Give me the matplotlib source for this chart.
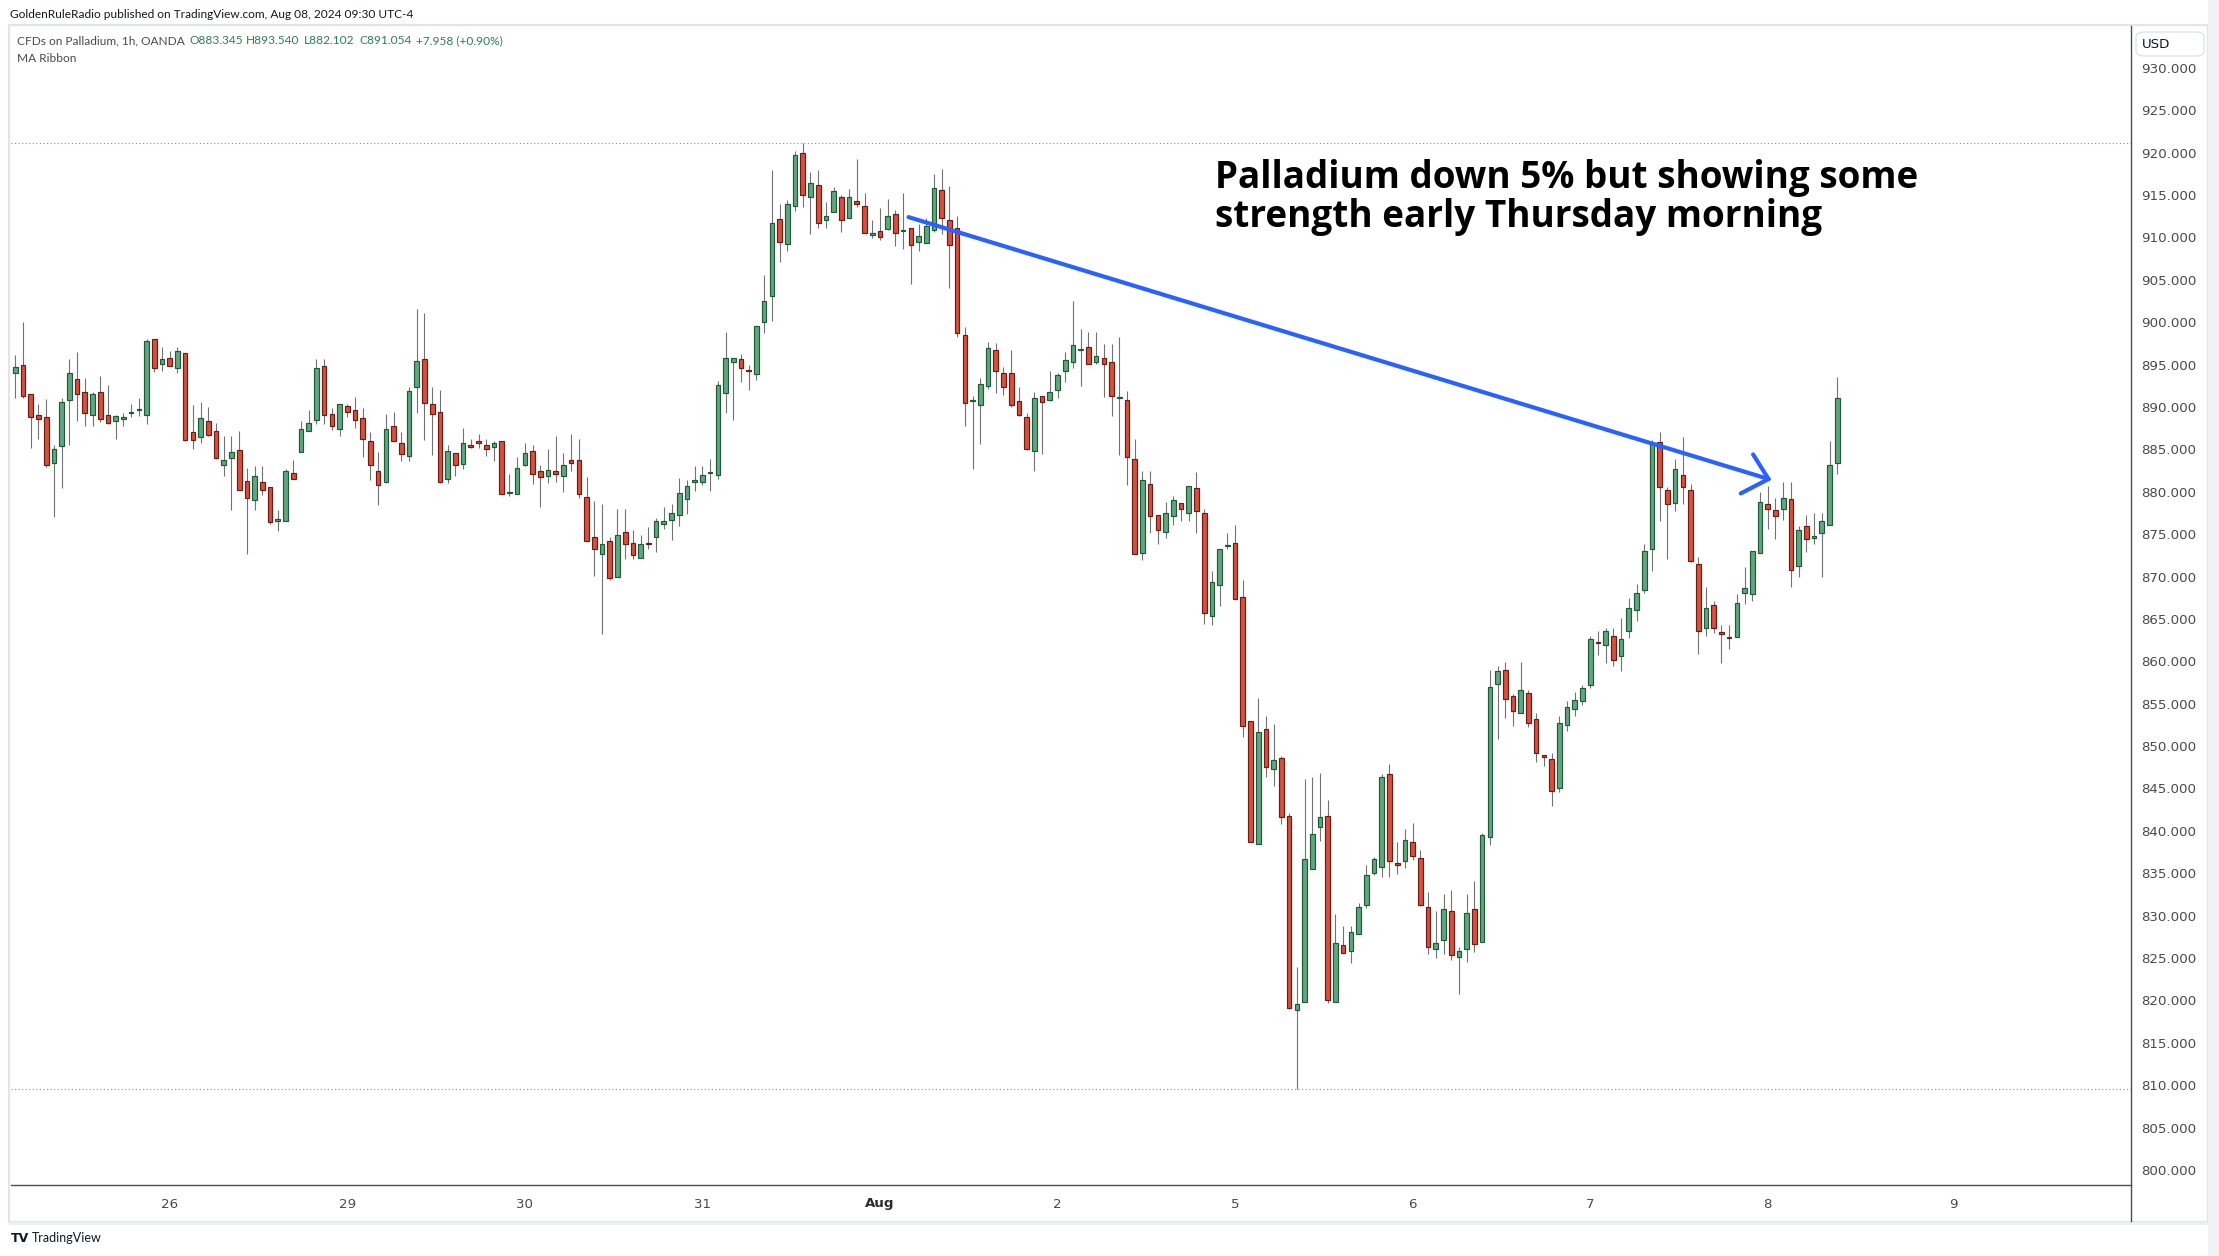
import numpy as np
import matplotlib
matplotlib.use("Agg")
import matplotlib.pyplot as plt
from matplotlib.patches import Rectangle, FancyBboxPatch
from matplotlib.lines import Line2D

# ---------------- data (1h candles, CFDs on Palladium, OANDA) ----------------
opens = [894.0, 895.0, 891.5, 889.1, 888.8, 883.4, 885.4, 890.8, 893.3, 891.8,
         889.1, 891.8, 889.1, 888.4, 888.6, 889.3, 889.6, 889.1, 898.0, 895.1,
         895.8, 894.6, 896.4, 887.0, 886.5, 888.4, 887.2, 883.2, 884.0, 884.9,
         881.3, 879.0, 881.1, 880.5, 876.6, 876.6, 882.2, 884.7, 887.2, 888.5,
         894.8, 889.2, 887.4, 890.1, 889.7, 888.7, 886.0, 882.5, 881.1, 887.8,
         885.8, 884.2, 892.3, 895.7, 890.3, 889.4, 881.5, 884.6, 883.3, 885.5,
         886.0, 885.5, 885.3, 886.0, 879.9, 879.7, 883.1, 884.8, 882.4, 881.9,
         882.4, 881.9, 883.7, 883.7, 879.4, 874.7, 872.7, 874.2, 870.0, 875.2,
         874.0, 872.2, 874.0, 874.7, 876.2, 876.7, 877.3, 879.2, 881.2, 881.2,
         882.2, 882.0, 891.7, 895.3, 895.6, 894.4, 893.9, 900.0, 903.1, 912.2,
         909.2, 913.7, 919.9, 914.8, 916.2, 912.1, 913.0, 914.8, 912.3, 914.3,
         913.7, 910.3, 910.8, 911.0, 912.8, 910.7, 911.1, 909.5, 909.3, 910.9,
         915.6, 912.1, 911.1, 898.5, 890.7, 890.2, 892.5, 896.7, 894.0, 894.0,
         890.7, 888.8, 884.8, 891.3, 890.8, 892.0, 894.2, 895.3, 896.7, 897.1,
         895.3, 895.8, 895.3, 891.0, 890.8, 883.9, 872.8, 880.9, 877.3, 875.3,
         877.1, 878.7, 877.5, 880.4, 877.5, 865.4, 869.0, 873.6, 874.0, 867.6,
         853.0, 838.4, 852.0, 847.3, 848.6, 841.8, 818.9, 819.8, 835.5, 840.4,
         841.8, 819.8, 826.5, 825.8, 827.8, 831.3, 835.0, 835.7, 846.7, 836.2,
         836.4, 838.7, 836.8, 831.0, 826.1, 827.1, 830.5, 825.1, 826.1, 830.8,
         826.9, 839.3, 857.3, 859.0, 855.9, 853.9, 856.3, 853.2, 848.9, 848.5,
         845.0, 852.5, 854.4, 855.3, 857.2, 862.3, 861.9, 863.0, 860.6, 863.6,
         866.1, 868.4, 873.3, 885.9, 880.2, 878.7, 882.0, 880.2, 871.5, 863.9,
         866.6, 863.4, 862.9, 862.9, 868.1, 867.9, 872.8, 878.6, 877.8, 878.0,
         879.1, 871.2, 875.9, 874.6, 875.1, 876.1, 883.345]
highs = [896.1, 900.0, 891.5, 890.3, 890.9, 885.5, 891.1, 895.6, 896.5, 893.4,
         891.8, 893.6, 892.6, 889.1, 889.3, 890.4, 891.1, 898.0, 898.0, 897.1,
         896.6, 897.1, 896.4, 890.2, 890.6, 890.0, 888.1, 886.6, 886.6, 887.2,
         882.8, 883.0, 883.0, 880.5, 877.8, 882.7, 883.8, 888.4, 889.7, 895.7,
         895.7, 889.9, 890.4, 890.4, 891.2, 889.9, 887.0, 884.7, 889.2, 889.4,
         887.0, 892.3, 901.6, 901.1, 892.3, 892.0, 885.5, 884.6, 887.5, 886.2,
         886.8, 886.2, 886.0, 886.0, 882.1, 884.1, 885.8, 885.5, 883.1, 885.1,
         886.6, 884.6, 886.8, 886.2, 881.7, 878.9, 878.5, 874.7, 878.0, 878.0,
         875.5, 874.9, 875.8, 876.9, 878.2, 878.5, 881.6, 881.4, 883.0, 883.0,
         883.9, 893.1, 898.9, 895.8, 896.2, 894.9, 899.6, 905.6, 917.9, 913.9,
         914.4, 920.2, 921.1, 917.7, 917.9, 914.2, 915.9, 915.0, 915.7, 919.2,
         915.2, 912.1, 913.5, 914.5, 913.2, 915.2, 911.1, 911.6, 912.3, 917.5,
         918.1, 916.1, 912.5, 899.4, 891.3, 893.4, 897.7, 897.5, 894.7, 896.7,
         892.3, 889.3, 891.8, 891.3, 894.3, 894.0, 896.5, 902.5, 899.2, 898.8,
         898.8, 897.4, 897.4, 898.3, 891.9, 886.2, 882.5, 882.5, 877.3, 878.8,
         879.5, 878.7, 880.7, 882.3, 878.0, 870.6, 873.3, 875.1, 876.1, 869.6,
         853.0, 855.7, 853.5, 852.6, 848.8, 842.1, 823.9, 846.1, 846.3, 846.8,
         843.6, 830.2, 828.8, 828.8, 831.5, 836.0, 836.9, 846.7, 847.9, 838.7,
         840.2, 840.9, 837.7, 832.8, 830.5, 832.5, 833.0, 826.3, 832.5, 834.1,
         839.7, 859.0, 859.5, 859.9, 856.1, 859.9, 856.6, 853.9, 848.9, 849.2,
         853.5, 855.3, 856.4, 857.2, 863.0, 863.6, 863.9, 863.9, 865.1, 867.5,
         869.1, 873.8, 886.1, 887.0, 880.5, 883.9, 886.4, 880.9, 872.3, 868.8,
         867.1, 864.3, 864.3, 867.9, 871.1, 873.0, 880.0, 880.7, 879.3, 881.1,
         881.1, 875.9, 877.3, 877.5, 877.5, 886.0, 893.540]
lows = [891.0, 891.0, 885.2, 886.2, 882.9, 877.0, 880.4, 885.5, 888.4, 887.7,
        887.7, 888.2, 888.0, 886.2, 887.7, 888.8, 888.9, 888.0, 894.1, 894.3,
        894.8, 894.0, 886.0, 885.0, 885.7, 886.6, 883.9, 881.9, 877.8, 880.2,
        872.7, 877.8, 879.6, 876.2, 875.4, 876.5, 881.5, 884.7, 887.2, 888.0,
        888.0, 887.3, 886.6, 888.8, 887.5, 884.1, 881.4, 878.4, 881.0, 886.0,
        883.6, 883.6, 889.3, 886.1, 884.3, 881.0, 881.0, 881.9, 882.7, 885.2,
        885.2, 884.2, 883.6, 879.7, 879.5, 879.7, 883.0, 880.9, 878.2, 881.0,
        881.1, 880.0, 882.5, 879.3, 874.2, 870.1, 863.2, 869.6, 869.9, 872.1,
        872.1, 872.2, 873.2, 872.9, 875.6, 874.3, 875.9, 877.4, 880.1, 880.8,
        880.1, 881.5, 889.3, 888.5, 893.0, 892.0, 893.2, 898.7, 900.1, 907.1,
        908.4, 913.1, 913.6, 910.4, 911.1, 911.1, 913.0, 910.6, 912.3, 913.6,
        910.5, 909.9, 909.7, 910.9, 909.0, 908.6, 904.5, 908.4, 909.3, 910.6,
        910.4, 904.0, 898.3, 887.8, 882.7, 885.6, 892.1, 891.6, 891.4, 890.0,
        888.9, 884.9, 882.5, 884.4, 890.7, 891.0, 892.9, 894.6, 892.5, 895.1,
        895.1, 891.2, 888.9, 884.3, 880.8, 872.6, 871.9, 875.1, 873.8, 874.6,
        876.1, 876.6, 876.6, 875.1, 864.4, 864.3, 866.5, 873.2, 867.4, 851.1,
        838.7, 838.4, 846.4, 845.3, 840.8, 819.0, 809.5, 819.8, 835.5, 838.8,
        819.7, 819.8, 825.6, 824.4, 827.8, 830.9, 834.8, 834.5, 834.5, 834.9,
        835.6, 836.5, 831.1, 825.5, 825.0, 825.5, 824.8, 820.8, 824.5, 825.7,
        826.9, 838.3, 850.8, 853.3, 852.4, 853.9, 852.2, 848.1, 847.6, 842.9,
        844.6, 851.8, 853.6, 854.8, 856.8, 860.7, 859.8, 859.5, 858.8, 862.7,
        864.7, 868.0, 870.7, 876.6, 872.1, 877.7, 878.6, 871.7, 860.8, 863.0,
        863.3, 859.8, 861.5, 862.9, 866.7, 867.1, 872.8, 875.6, 874.4, 876.7,
        868.8, 870.0, 872.9, 873.8, 870.0, 876.1, 882.102]
closes = [894.7, 891.3, 888.8, 888.6, 883.2, 885.1, 890.6, 894.0, 891.5, 889.3,
          891.5, 888.6, 888.1, 888.9, 888.8, 889.4, 889.7, 897.8, 894.6, 895.6,
          894.8, 896.6, 886.1, 886.1, 888.7, 886.7, 884.0, 883.8, 884.7, 880.2,
          879.3, 881.8, 880.2, 876.4, 876.8, 882.5, 881.5, 887.4, 888.1, 894.6,
          889.0, 887.7, 890.4, 889.4, 888.5, 886.2, 883.1, 880.8, 887.4, 886.0,
          884.5, 891.9, 895.4, 890.5, 889.2, 881.1, 884.8, 883.1, 885.8, 885.3,
          885.8, 885.1, 885.8, 879.7, 880.0, 882.8, 884.6, 882.1, 881.7, 882.6,
          882.1, 883.1, 883.4, 879.7, 874.2, 873.3, 873.8, 869.8, 874.9, 873.8,
          872.5, 873.8, 873.8, 876.5, 876.5, 877.5, 879.8, 880.7, 881.4, 882.0,
          882.3, 892.6, 895.8, 895.8, 894.6, 894.2, 899.6, 902.5, 911.7, 909.5,
          913.9, 919.7, 915.0, 916.4, 911.7, 912.5, 915.5, 912.1, 914.8, 914.0,
          910.5, 910.5, 910.1, 912.5, 910.5, 910.8, 909.1, 910.2, 911.3, 915.8,
          912.3, 909.1, 898.7, 890.5, 890.8, 892.7, 896.9, 894.2, 892.3, 890.2,
          889.1, 885.1, 891.0, 890.6, 891.8, 893.8, 895.5, 897.3, 896.8, 895.1,
          896.0, 895.1, 891.3, 891.1, 884.1, 872.6, 881.4, 877.1, 875.5, 877.5,
          879.0, 878.0, 880.7, 877.7, 865.7, 869.3, 873.3, 873.7, 867.4, 852.4,
          838.7, 851.7, 847.5, 848.3, 841.6, 819.1, 819.6, 836.7, 839.6, 841.6,
          820.1, 826.8, 825.6, 828.1, 831.0, 834.8, 836.7, 846.3, 836.4, 836.0,
          838.9, 837.0, 831.2, 826.3, 826.8, 830.8, 825.4, 825.8, 830.3, 826.7,
          839.5, 857.0, 858.8, 855.6, 854.1, 856.6, 852.7, 849.2, 848.7, 844.7,
          852.7, 854.6, 855.4, 856.9, 862.6, 862.1, 863.6, 860.1, 862.6, 866.3,
          868.1, 873.0, 885.7, 880.5, 878.5, 882.7, 880.5, 871.8, 863.6, 866.3,
          863.9, 863.2, 862.7, 866.9, 868.7, 873.0, 878.8, 878.0, 877.1, 879.3,
          870.8, 875.5, 874.4, 874.8, 876.6, 883.096, 891.054]

day_labels = ["26", "29", "30", "31", "Aug", "2", "5", "6", "7", "8", "9"]
day_bar_index = [20, 43, 66, 89, 112, 135, 158, 181, 204, 227, 251]
price_ticks = list(range(800, 931, 5))

headline = ["Palladium down 5% but showing some", "strength early Thursday morning"]
headline_x = 155.4
headline_baselines = [915.84, 911.18]
arrow_start = (115.7, 912.4)
arrow_tip = (227.1, 881.5)
arrow_wings = [(225.1, 884.4), (223.5, 879.8)]

# ---------------- figure ----------------
W, H = 2219, 1256
fig = plt.figure(figsize=(W / 100, H / 100), dpi=100)
fig.patch.set_facecolor("white")


def fx(x):
    return x / W


def fy(y):
    return 1 - y / H


ax = fig.add_axes([fx(11), fy(1185), (2131 - 11) / W, (1185 - 26) / H])
ax.set_facecolor("white")

o = np.array(opens)
h = np.array(highs)
l = np.array(lows)
c = np.array(closes)
x = np.arange(len(o))
up = c >= o

GREEN_FILL, GREEN_EDGE = "#63a580", "#1f5a37"
RED_FILL, RED_EDGE = "#d6503e", "#6d1c15"

ax.vlines(x, l, h, color="#727272", linewidth=0.8, zorder=2)
body_bottom = np.minimum(o, c)
body_h = np.maximum(np.abs(c - o), 0.12)
ax.bar(x[up], body_h[up], bottom=body_bottom[up], width=0.6,
       color=GREEN_FILL, edgecolor=GREEN_EDGE, linewidth=0.85, zorder=3)
ax.bar(x[~up], body_h[~up], bottom=body_bottom[~up], width=0.6,
       color=RED_FILL, edgecolor=RED_EDGE, linewidth=0.85, zorder=3)

# high / low dotted price lines
ax.axhline(h.max(), color="#8a8d96", linewidth=0.8, linestyle=(0, (1, 2.2)), zorder=1)
ax.axhline(l.min(), color="#8a8d96", linewidth=0.8, linestyle=(0, (1, 2.2)), zorder=1)

ax.set_xlim(-0.56, 274.05)
ax.set_ylim(798.22, 934.94)

# axes styling
for s in ["left", "top", "right"]:
    ax.spines[s].set_visible(False)
ax.spines["bottom"].set_color("#4a4d57")
ax.spines["bottom"].set_linewidth(1.0)

ax.yaxis.tick_right()
ax.set_yticks(price_ticks)
ax.set_yticklabels([f"{v:.3f}" for v in price_ticks])
ax.tick_params(axis="y", length=0, pad=7.5, labelsize=9.6, labelcolor="#4a4a4a")

ax.set_xticks(day_bar_index)
ax.set_xticklabels(day_labels)
ax.tick_params(axis="x", length=0, pad=9, labelsize=9.6, labelcolor="#4a4a4a")
for t in ax.get_xticklabels():
    if t.get_text() == "Aug":
        t.set_fontweight("bold")
        t.set_color("#2a2a2a")

# arrow annotation
ax.plot([arrow_start[0], arrow_tip[0]], [arrow_start[1], arrow_tip[1]],
        color="#2962ff", linewidth=3.0, solid_capstyle="round", zorder=5)
for wx, wy in arrow_wings:
    ax.plot([wx, arrow_tip[0]], [wy, arrow_tip[1]], color="#2962ff",
            linewidth=3.0, solid_capstyle="round", zorder=5)

# headline text
for line, yb in zip(headline, headline_baselines):
    ax.text(headline_x, yb, line, fontsize=26.6, fontweight="bold",
            family="Open Sans", color="#000000", va="baseline", ha="left", zorder=6)

# ---------------- frame / widget chrome ----------------
fig.patches.append(Rectangle((fx(9), fy(1222)), (2208 - 9) / W, (1222 - 25) / H,
                             transform=fig.transFigure, fill=False,
                             edgecolor="#e2e4ea", linewidth=1.6, zorder=0))
fig.patches.append(Rectangle((fx(2208), 0), 1 - fx(2208), 1,
                             transform=fig.transFigure, facecolor="#f0f2f6",
                             edgecolor="none", zorder=0))
fig.patches.append(Rectangle((fx(9), fy(1225)), (2208 - 9) / W, 3 / H,
                             transform=fig.transFigure, facecolor="#eceef2",
                             edgecolor="none", zorder=0))
fig.add_artist(Line2D([fx(2131), fx(2131)], [fy(26), fy(1221)],
                      transform=fig.transFigure, color="#4a4d57", linewidth=1.0))

# USD box
fig.patches.append(FancyBboxPatch((fx(2136), fy(56)), (2204 - 2136) / W, (56 - 32) / H,
                                  boxstyle="round,pad=0,rounding_size=0.004",
                                  transform=fig.transFigure, facecolor="white",
                                  edgecolor="#e0e3eb", linewidth=1.0))
fig.text(fx(2142), fy(44), "USD", fontsize=9.6, color="#131722", va="center", ha="left")

# header texts
HF = 8.6
fig.text(fx(10), fy(15), "GoldenRuleRadio published on TradingView.com, Aug 08, 2024 09:30 UTC-4",
         fontsize=HF, family="Lato", color="#131722", va="center", ha="left")
fig.text(fx(17), fy(41), "CFDs on Palladium, 1h, OANDA", fontsize=HF, family="Lato",
         color="#4a4a4a", va="center", ha="left")
chg = closes[-1] - closes[-2]
pct = chg / closes[-2] * 100
vals = [(190, f"O{opens[-1]:.3f}"), (246, f"H{highs[-1]:.3f}"), (304, f"L{lows[-1]:.3f}"),
        (359, f"C{closes[-1]:.3f}"), (416, f"{chg:+.3f} ({pct:+.2f}%)")]
for px, s in vals:
    fig.text(fx(px), fy(41), s, fontsize=HF, family="Lato", color="#2f7d55",
             va="center", ha="left")
fig.text(fx(17), fy(58), "MA Ribbon", fontsize=HF, family="Lato", color="#4a4a4a",
         va="center", ha="left")

# TradingView logo text
fig.text(fx(11), fy(1238), "TV", fontsize=9, fontweight="bold", color="#131722",
         va="center", ha="left")
fig.text(fx(32), fy(1238), "TradingView", fontsize=9, family="Lato", color="#131722",
         va="center", ha="left")

fig.savefig("out.png", dpi=100, facecolor="white")
